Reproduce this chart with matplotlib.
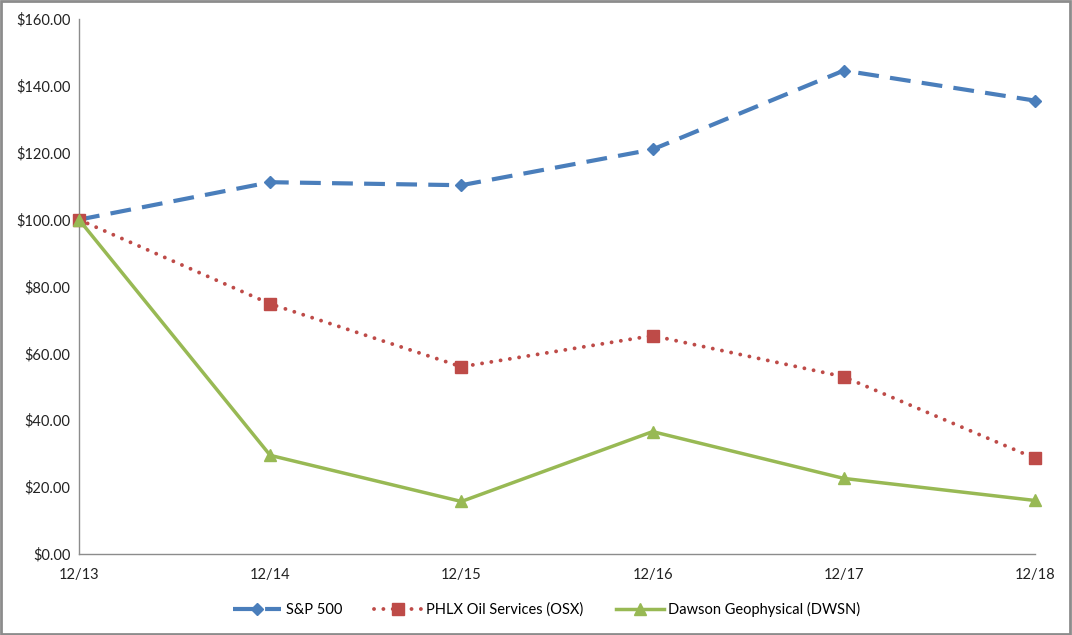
import matplotlib
matplotlib.use("Agg")
import matplotlib.pyplot as plt
from matplotlib.patches import Rectangle

categories = ["12/13", "12/14", "12/15", "12/16", "12/17", "12/18"]
sp500 = [100.0, 111.2, 110.3, 121.0, 144.6, 135.6]
osx = [100.0, 74.8, 56.0, 65.3, 53.0, 28.6]
dwsn = [100.0, 29.5, 15.7, 36.6, 22.6, 16.0]
yticks = [0, 20, 40, 60, 80, 100, 120, 140, 160]

plt.rcParams['font.family'] = ['Lato', 'DejaVu Sans']

fig = plt.figure(figsize=(10.72, 6.35), dpi=100)
ax = fig.add_axes([0.0737, 0.1276, 0.8918, 0.8424])
x = list(range(len(categories)))

ax.plot(x, sp500, color='#4a7ebb', lw=3, dashes=(5, 2.7), marker='D', ms=6.5,
        label='S&P 500', dash_capstyle='butt', clip_on=False, zorder=3)
ax.plot(x, osx, color='#be4b48', lw=2.8, linestyle=(0, (0.01, 2.4)), marker='s', ms=8.5,
        label='PHLX Oil Services (OSX)', dash_capstyle='round', clip_on=False, zorder=3)
ax.plot(x, dwsn, color='#98b954', lw=2.5, linestyle='-', marker='^', ms=8.5,
        label='Dawson Geophysical (DWSN)', clip_on=False, zorder=3)

ax.set_xlim(0, 5)
ax.set_ylim(0, 160)
ax.set_yticks(yticks)
ax.set_yticklabels([f"${v:.2f}" for v in yticks])
ax.set_xticks(x)
ax.set_xticklabels(categories)
ax.tick_params(length=0, labelsize=10.5, colors='#222222')
ax.tick_params(axis='x', pad=10)
ax.tick_params(axis='y', pad=6)
for s in ['top', 'right']:
    ax.spines[s].set_visible(False)
for s in ['left', 'bottom']:
    ax.spines[s].set_color('#8c8c8c')
    ax.spines[s].set_linewidth(1)

leg = fig.legend(loc='center', bbox_to_anchor=(0.51, 0.04), ncol=3, frameon=False,
                 fontsize=10.5, handlelength=3.3, columnspacing=2.2, handletextpad=0.3)

fig.patches.append(Rectangle((0.001, 0.002), 0.997, 0.996, transform=fig.transFigure,
                             fill=False, edgecolor='#8c8c8c', lw=2))
fig.savefig('out.png', dpi=100)
